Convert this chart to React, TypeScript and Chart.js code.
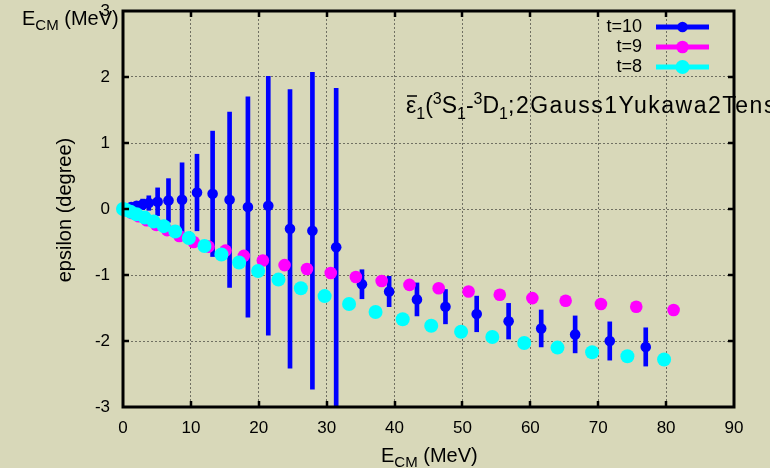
import React, { useEffect, useRef } from "react";
import { Chart, registerables } from "chart.js";

Chart.register(...registerables);

const BG = "#d8d8b9";
const FONT = "'Liberation Sans', Arial, sans-serif";

// t=10 (with error bars)
const t10E = [0, 0.5, 1.2, 2.0, 2.9, 3.8, 5.1, 6.7, 8.7, 10.9, 13.2, 15.7, 18.4, 21.4, 24.6, 27.9, 31.4, 35.2, 39.2, 43.3, 47.5, 52.1, 56.8, 61.6, 66.6, 71.7, 77.0];
const t10Eps = [0, 0.01, 0.03, 0.05, 0.07, 0.09, 0.11, 0.13, 0.14, 0.25, 0.23, 0.14, 0.03, 0.05, -0.30, -0.33, -0.58, -1.14, -1.25, -1.37, -1.48, -1.59, -1.70, -1.81, -1.90, -2.00, -2.09];
const t10Err = [0, 0.01, 0.03, 0.05, 0.08, 0.11, 0.21, 0.33, 0.56, 0.58, 0.95, 1.33, 1.67, 1.96, 2.11, 2.40, 2.41, 0.22, 0.23, 0.25, 0.26, 0.27, 0.27, 0.28, 0.28, 0.29, 0.29];

// t=9
const t9E = [0, 0.5, 1.3, 2.3, 3.5, 4.9, 6.5, 8.3, 10.4, 12.6, 15.1, 17.8, 20.6, 23.8, 27.1, 30.6, 34.3, 38.1, 42.2, 46.5, 50.9, 55.5, 60.3, 65.2, 70.4, 75.6, 81.1];
const t9Eps = [0, -0.02, -0.06, -0.11, -0.17, -0.24, -0.32, -0.41, -0.50, -0.57, -0.63, -0.71, -0.78, -0.85, -0.91, -0.97, -1.03, -1.09, -1.15, -1.20, -1.25, -1.30, -1.35, -1.39, -1.44, -1.48, -1.53];

// t=8
const t8E = [0, 0.4, 1.1, 2.0, 3.2, 4.5, 6.0, 7.7, 9.7, 12.0, 14.5, 17.1, 19.9, 22.9, 26.2, 29.7, 33.3, 37.2, 41.2, 45.4, 49.8, 54.4, 59.1, 64.0, 69.1, 74.3, 79.7];
const t8Eps = [0, -0.01, -0.04, -0.08, -0.13, -0.19, -0.26, -0.34, -0.44, -0.56, -0.69, -0.81, -0.94, -1.07, -1.20, -1.32, -1.44, -1.56, -1.67, -1.77, -1.86, -1.94, -2.03, -2.10, -2.17, -2.23, -2.28];

const xTicks = [0, 10, 20, 30, 40, 50, 60, 70, 80, 90];
const yTicks = [-3, -2, -1, 0, 1, 2, 3];

const seriesNames = ["t=10", "t=9", "t=8"];
const seriesColors = ["#0000ff", "#ff00ff", "#00ffff"];
const seriesRadius = [5.3, 6.3, 7];

const xTitle = [
  { t: "E", size: 20, dy: 0 },
  { t: "CM", size: 15, dy: 5 },
  { t: " (MeV)", size: 20, dy: 0 },
];
const yTitle = "epsilon (degree)";
const annotation = [
  { t: "\u03b5", size: 23, dy: 0 },
  { t: "1", size: 16, dy: 6 },
  { t: "(", size: 23, dy: 0 },
  { t: "3", size: 16, dy: -9 },
  { t: "S", size: 23, dy: 0 },
  { t: "1", size: 16, dy: 6 },
  { t: "-", size: 23, dy: 0 },
  { t: "3", size: 16, dy: -9 },
  { t: "D", size: 23, dy: 0 },
  { t: "1", size: 16, dy: 6 },
  { t: ";2Gauss1Yukawa2Tensor)", size: 23, dy: 0, ls: 1.5 },
];

type Seg = { t: string; size: number; dy: number; ls?: number };

function drawRich(ctx: CanvasRenderingContext2D, x: number, y: number, segs: Seg[]) {
  let cx = x;
  for (const s of segs) {
    ctx.font = `${s.size}px ${FONT}`;
    (ctx as any).letterSpacing = `${s.ls || 0}px`;
    ctx.fillText(s.t, cx, y + s.dy);
    cx += ctx.measureText(s.t).width;
  }
  (ctx as any).letterSpacing = "0px";
  return cx;
}

const deco = {
  id: "deco",
  afterDatasetsDraw(chart: any) {
    const { ctx, chartArea: a, scales } = chart;
    const xs = scales.x;
    const ys = scales.y;
    ctx.save();
    ctx.fillStyle = "#000";
    ctx.textAlign = "left";
    ctx.textBaseline = "alphabetic";

    // annotation label
    const ax = a.left + 283;
    const ay = a.top + 102;
    drawRich(ctx, ax, ay, annotation);
    ctx.strokeStyle = "#000";
    ctx.lineWidth = 1.5;
    ctx.beginPath();
    ctx.moveTo(ax + 1, ay - 17);
    ctx.lineTo(ax + 11, ay - 17);
    ctx.stroke();

    // frame
    ctx.lineWidth = 3;
    ctx.strokeRect(a.left, a.top, a.right - a.left, a.bottom - a.top);

    // mirrored inward ticks
    ctx.lineWidth = 2.5;
    ctx.beginPath();
    for (const v of xTicks) {
      if (v === xTicks[0] || v === xTicks[xTicks.length - 1]) continue;
      const px = Math.round(xs.getPixelForValue(v));
      ctx.moveTo(px, a.bottom);
      ctx.lineTo(px, a.bottom - 6);
      ctx.moveTo(px, a.top);
      ctx.lineTo(px, a.top + 6);
    }
    for (const v of yTicks) {
      if (v === yTicks[0] || v === yTicks[yTicks.length - 1]) continue;
      const py = Math.round(ys.getPixelForValue(v));
      ctx.moveTo(a.left, py);
      ctx.lineTo(a.left + 6, py);
      ctx.moveTo(a.right, py);
      ctx.lineTo(a.right - 6, py);
    }
    ctx.stroke();

    // legend
    for (let i = 0; i < seriesNames.length; i++) {
      const ly = a.top + 16 + i * 20;
      ctx.font = `18px ${FONT}`;
      ctx.textAlign = "right";
      ctx.textBaseline = "middle";
      ctx.fillStyle = "#000";
      ctx.fillText(seriesNames[i], a.left + 519, ly);
      ctx.strokeStyle = seriesColors[i];
      ctx.lineWidth = 5;
      ctx.beginPath();
      ctx.moveTo(a.left + 533, ly);
      ctx.lineTo(a.left + 586, ly);
      ctx.stroke();
      ctx.fillStyle = seriesColors[i];
      ctx.beginPath();
      ctx.arc(a.left + 559.5, ly, seriesRadius[i], 0, Math.PI * 2);
      ctx.fill();
    }

    // axis titles
    ctx.fillStyle = "#000";
    ctx.textAlign = "left";
    ctx.textBaseline = "alphabetic";
    drawRich(ctx, 381, 462, xTitle);
    drawRich(ctx, 22, 25, xTitle);

    ctx.save();
    ctx.translate(65, 210);
    ctx.rotate(-Math.PI / 2);
    ctx.font = `20px ${FONT}`;
    ctx.textAlign = "center";
    ctx.textBaseline = "middle";
    ctx.fillText(yTitle, 0, 0);
    ctx.restore();

    ctx.restore();
  },
};

export default function App() {
  const ref = useRef<HTMLCanvasElement>(null);

  useEffect(() => {
    if (!ref.current) return;
    const gridColor = (c: any) =>
      c.tick && (c.tick.value === c.scale.min || c.tick.value === c.scale.max) ? "rgba(0,0,0,0)" : "#707062";

    const chart = new Chart(ref.current, {
      type: "scatter",
      data: {
        datasets: [
          {
            type: "bar",
            label: "t=10 error",
            data: t10E.map((x, i) => ({ x, y: [t10Eps[i] - t10Err[i], t10Eps[i] + t10Err[i]] })) as any,
            backgroundColor: seriesColors[0],
            borderWidth: 0,
            barThickness: 4,
            order: 4,
          } as any,
          {
            type: "scatter",
            label: seriesNames[0],
            data: t10E.map((x, i) => ({ x, y: t10Eps[i] })),
            backgroundColor: seriesColors[0],
            borderWidth: 0,
            pointRadius: seriesRadius[0],
            clip: false,
            order: 3,
          } as any,
          {
            type: "scatter",
            label: seriesNames[1],
            data: t9E.map((x, i) => ({ x, y: t9Eps[i] })),
            backgroundColor: seriesColors[1],
            borderWidth: 0,
            pointRadius: seriesRadius[1],
            clip: false,
            order: 2,
          } as any,
          {
            type: "scatter",
            label: seriesNames[2],
            data: t8E.map((x, i) => ({ x, y: t8Eps[i] })),
            backgroundColor: seriesColors[2],
            borderWidth: 0,
            pointRadius: seriesRadius[2],
            clip: false,
            order: 1,
          } as any,
        ],
      },
      options: {
        animation: false,
        responsive: false,
        devicePixelRatio: 1,
        events: [],
        layout: { padding: { top: 11, right: 36, left: 0, bottom: 0 } },
        plugins: { legend: { display: false }, tooltip: { enabled: false } },
        scales: {
          x: {
            type: "linear",
            min: 0,
            max: 90,
            offset: false,
            afterFit: (s: any) => {
              s.height = 61;
              s.paddingLeft = 0;
              s.paddingRight = 0;
            },
            ticks: { stepSize: 10, color: "#000", font: { family: FONT, size: 17 }, padding: 11, maxRotation: 0, autoSkip: false },
            grid: { color: gridColor, lineWidth: 1, drawTicks: false, offset: false },
            border: { display: false, dash: [2, 2] },
          },
          y: {
            type: "linear",
            min: -3,
            max: 3,
            afterFit: (s: any) => {
              s.width = 123;
              s.paddingTop = 0;
              s.paddingBottom = 0;
            },
            ticks: { stepSize: 1, color: "#000", font: { family: FONT, size: 17 }, padding: 13 },
            grid: { color: gridColor, lineWidth: 1, drawTicks: false },
            border: { display: false, dash: [2, 2] },
          },
        },
      } as any,
      plugins: [deco],
    });
    return () => chart.destroy();
  }, []);

  return (
    <div style={{ position: "absolute", left: 0, top: 0, width: 770, height: 468, background: BG, overflow: "hidden" }}>
      <canvas ref={ref} width={770} height={468} style={{ display: "block" }} />
    </div>
  );
}
